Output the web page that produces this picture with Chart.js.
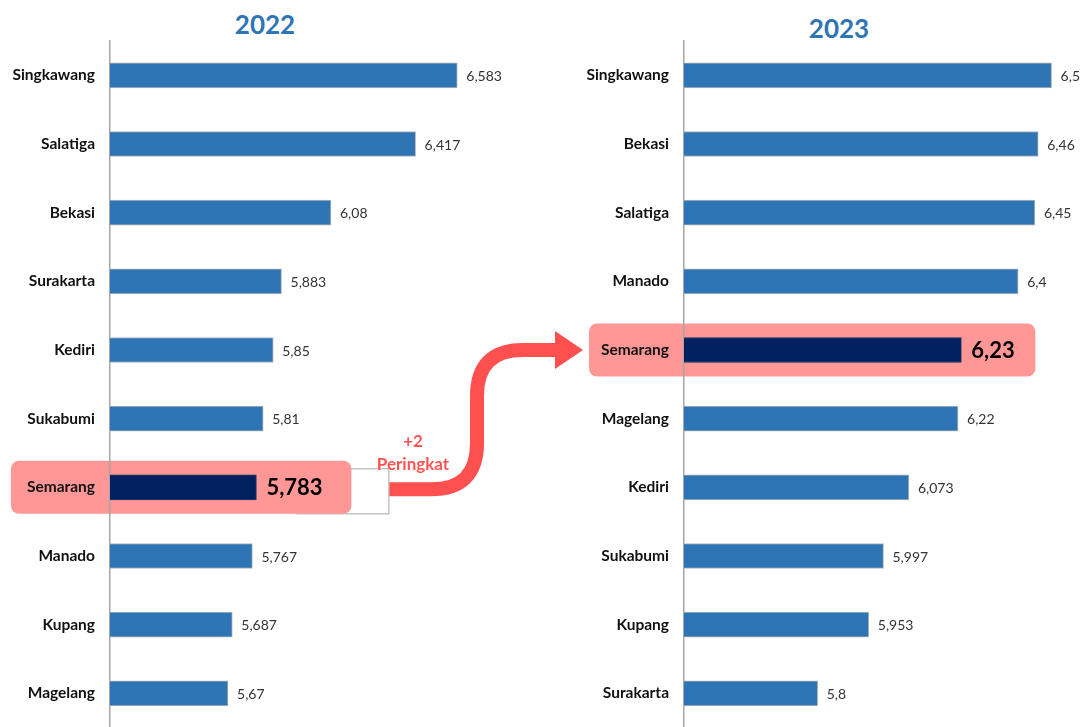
<!DOCTYPE html>
<html>
<head>
<meta charset="utf-8">
<script src="https://cdn.jsdelivr.net/npm/chart.js@4.4.1/dist/chart.umd.min.js"></script>
<style>
  html, body { margin: 0; padding: 0; background: #fff; overflow: hidden; width: 1083px; height: 727px; position: relative; font-family: Lato, sans-serif; }
  canvas { position: absolute; top: 0; }
  #c22 { left: 0; }
  #c23 { left: 570px; }
  #arrow { left: 0; top: 0; pointer-events: none; }
  .year { position: absolute; font: 700 26px Lato, sans-serif; color: #2E75B6; text-align: center; }
  .rank { position: absolute; font: 700 17px Lato, sans-serif; color: #FF5454; text-align: center; line-height: 23px; }
</style>
</head>
<body>
<div class="year" style="left:165px;top:8px;width:200px">2022</div>
<div class="year" style="left:739px;top:12px;width:200px">2023</div>
<canvas id="c22" width="562" height="752"></canvas>
<canvas id="c23" width="515" height="752"></canvas>
<canvas id="arrow" width="1083" height="727"></canvas>
<div class="rank" style="left:363px;top:429px;width:100px">+2<br>Peringkat</div>

<script>
// Ranked city scores, 2022 and 2023
const cities2022 = ['Singkawang', 'Salatiga', 'Bekasi', 'Surakarta', 'Kediri', 'Sukabumi', 'Semarang', 'Manado', 'Kupang', 'Magelang'];
const scores2022 = [6.583, 6.417, 6.08, 5.883, 5.85, 5.81, 5.783, 5.767, 5.687, 5.67];

const cities2023 = ['Singkawang', 'Bekasi', 'Salatiga', 'Manado', 'Semarang', 'Magelang', 'Kediri', 'Sukabumi', 'Kupang', 'Surakarta'];
const scores2023 = [6.5, 6.46, 6.45, 6.4, 6.23, 6.22, 6.073, 5.997, 5.953, 5.8];

const HIGHLIGHT = 'Semarang';
const BAR_BLUE = '#2E75B6';
const BAR_NAVY = '#002060';
const PINK = '#FF9797';

const fmt = v => String(v).replace('.', ',');

// Pink rounded band behind the highlighted row (and the small tab box on the left chart)
const highlightBox = {
  id: 'highlightBox',
  beforeDraw(chart, args, opts) {
    const i = chart.data.labels.indexOf(HIGHLIGHT);
    if (i < 0) return;
    const y = chart.scales.y.getPixelForValue(i);
    const xEnd = chart.scales.x.getPixelForValue(chart.data.datasets[0].data[i]);
    const ctx = chart.ctx;
    ctx.save();
    if (opts.tab) {
      ctx.fillStyle = '#fff';
      ctx.strokeStyle = '#A6A6A6';
      ctx.lineWidth = 1;
      ctx.fillRect(xEnd + 40, y - 19, 93, 46);
      ctx.strokeRect(xEnd + 40.5, y - 18.5, 92, 45);
    }
    ctx.fillStyle = PINK;
    ctx.beginPath();
    ctx.roundRect(opts.left, y - 26.5, xEnd + opts.extra - opts.left, 53, 8);
    ctx.fill();
    ctx.restore();
  }
};

// Value labels at the end of each bar
const valueLabels = {
  id: 'valueLabels',
  afterDatasetsDraw(chart) {
    const ctx = chart.ctx;
    const meta = chart.getDatasetMeta(0);
    const data = chart.data.datasets[0].data;
    const labels = chart.data.labels;
    ctx.save();
    ctx.textBaseline = 'middle';
    ctx.textAlign = 'left';
    meta.data.forEach((bar, i) => {
      const hl = labels[i] === HIGHLIGHT;
      ctx.font = hl ? '700 22px Lato, sans-serif' : '400 14px Lato, sans-serif';
      ctx.fillStyle = hl ? '#000' : '#333';
      ctx.fillText(fmt(data[i]), bar.x + (hl ? 10 : 9), bar.y + 1);
    });
    ctx.restore();
  }
};

function makeChart(id, labels, values, xMin, xMax, axisWidth, boxOpts) {
  return new Chart(document.getElementById(id), {
    type: 'bar',
    data: {
      labels: labels,
      datasets: [{
        data: values,
        backgroundColor: labels.map(l => l === HIGHLIGHT ? BAR_NAVY : BAR_BLUE),
        borderColor: labels.map(l => l === HIGHLIGHT ? '#1F3864' : '#B4B4B4'),
        borderWidth: 1,
        borderSkipped: 'left',
        barThickness: 25
      }]
    },
    options: {
      indexAxis: 'y',
      responsive: false,
      animation: false,
      layout: { padding: { top: 41, bottom: 0, left: 0, right: 0 } },
      plugins: {
        legend: { display: false },
        tooltip: { enabled: false },
        highlightBox: boxOpts
      },
      scales: {
        x: { display: false, min: xMin, max: xMax },
        y: {
          grid: { display: false, drawTicks: false },
          border: { display: true, color: '#A6A6A6', width: 1.5 },
          ticks: { padding: 15, color: '#111', font: { family: 'Lato', size: 15.5, weight: '700' } },
          afterFit: s => { s.width = axisWidth; }
        }
      }
    },
    plugins: [highlightBox, valueLabels]
  });
}

const chart22 = makeChart('c22', cities2022, scores2022, 5.2, 7.0, 110, { left: 11, extra: 95, tab: true });
const chart23 = makeChart('c23', cities2023, scores2023, 5.4, 6.6, 114, { left: 19, extra: 74, tab: false });

// Curved rank-change arrow linking the highlighted rows of both years
(function drawArrow() {
  const off23 = 570;
  const i22 = cities2022.indexOf(HIGHLIGHT);
  const i23 = cities2023.indexOf(HIGHLIGHT);
  const y22 = chart22.scales.y.getPixelForValue(i22);
  const x22 = chart22.scales.x.getPixelForValue(scores2022[i22]) + 133;
  const y23 = chart23.scales.y.getPixelForValue(i23);
  const x23 = off23 + 19 - 6;

  const ctx = document.getElementById('arrow').getContext('2d');
  const sx = x22, sy = y22 + 2, tx = x23, ty = y23;
  const midX = 477, r = 46, head = 28;
  ctx.strokeStyle = '#FF5050';
  ctx.fillStyle = '#FF5050';
  ctx.lineWidth = 14;
  ctx.lineJoin = 'round';
  ctx.beginPath();
  ctx.moveTo(sx, sy);
  ctx.lineTo(midX - r, sy);
  ctx.quadraticCurveTo(midX, sy, midX, sy - r);
  ctx.lineTo(midX, ty + r);
  ctx.quadraticCurveTo(midX, ty, midX + r, ty);
  ctx.lineTo(tx - head + 1, ty);
  ctx.stroke();
  ctx.beginPath();
  ctx.moveTo(tx - head, ty - 19);
  ctx.lineTo(tx, ty);
  ctx.lineTo(tx - head, ty + 19);
  ctx.closePath();
  ctx.fill();
})();
</script>
</body>
</html>
